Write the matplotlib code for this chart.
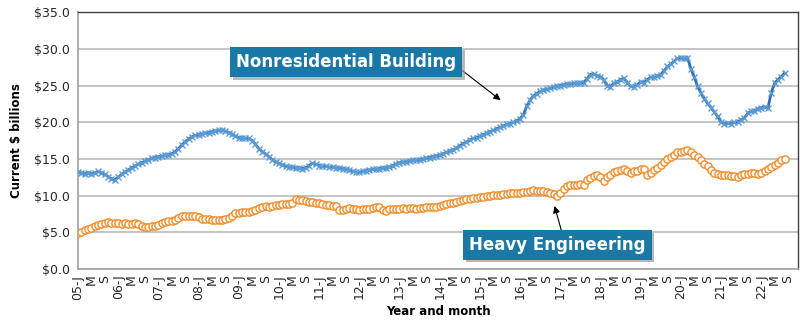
import numpy as np
import matplotlib
matplotlib.use('Agg')
import matplotlib.pyplot as plt
import matplotlib.patheffects as pe

# monthly values, Jan 2005 onwards (current $ billions)
nonres = [13.2, 13.1, 13.0, 13.1, 13.0, 13.1, 13.3, 13.1, 12.9, 12.6, 12.3, 12.2,
          12.5, 12.9, 13.2, 13.5, 13.8, 14.0, 14.3, 14.5, 14.7, 14.9, 15.1, 15.2,
          15.3, 15.4, 15.5, 15.6, 15.7, 16.0, 16.4, 16.9, 17.3, 17.7, 18.0, 18.2,
          18.3, 18.4, 18.5, 18.6, 18.7, 18.8, 18.9, 18.9, 18.8, 18.6, 18.4, 18.1,
          17.9, 17.9, 17.8, 17.8, 17.5, 17.0, 16.4, 16.0, 15.7, 15.3, 14.9, 14.6,
          14.4, 14.2, 14.0, 13.9, 13.9, 13.8, 13.8, 13.7, 13.8, 14.1, 14.4, 14.3,
          14.1, 14.0, 14.0, 13.9, 13.9, 13.8, 13.8, 13.7, 13.6, 13.5, 13.3, 13.2,
          13.2, 13.3, 13.4, 13.5, 13.6, 13.6, 13.7, 13.8, 13.8, 13.9, 14.1, 14.3,
          14.5, 14.6, 14.6, 14.7, 14.8, 14.8, 14.9, 15.0, 15.1, 15.2, 15.3, 15.4,
          15.5, 15.7, 15.9, 16.1, 16.2, 16.5, 16.8, 17.1, 17.3, 17.6, 17.8, 17.9,
          18.1, 18.3, 18.5, 18.7, 18.9, 19.1, 19.3, 19.5, 19.7, 19.8, 20.0, 20.2,
          20.5, 21.0, 22.2, 23.0, 23.6, 23.9, 24.2, 24.4, 24.5, 24.6, 24.8, 24.9,
          25.0, 25.1, 25.2, 25.2, 25.3, 25.3, 25.4, 25.4, 25.9, 26.5, 26.6, 26.3,
          26.2, 25.8, 25.0, 24.8, 25.3, 25.5, 25.8, 26.0, 25.4, 24.9, 24.8, 25.1,
          25.5, 25.4, 25.8, 26.1, 26.1, 26.3, 26.5, 27.0, 27.6, 27.9, 28.3, 28.7,
          28.8, 28.7, 28.8, 27.3, 26.2, 24.9, 24.0, 23.2, 22.6, 22.0, 21.4, 20.8,
          20.0, 19.8, 19.9, 19.8, 20.0, 20.1, 20.3, 20.6, 21.2, 21.5, 21.6, 21.8,
          22.0, 22.1, 21.9, 24.0, 25.3, 25.8, 26.2, 26.7]

heavy = [4.95, 5.1, 5.3, 5.45, 5.6, 5.85, 6.0, 6.15, 6.3, 6.35, 6.3, 6.3,
         6.25, 6.2, 6.25, 6.2, 6.2, 6.3, 6.1, 5.85, 5.8, 5.8, 5.85, 5.9,
         6.0, 6.3, 6.4, 6.5, 6.6, 6.7, 6.9, 7.2, 7.25, 7.2, 7.2, 7.2,
         7.1, 6.85, 6.8, 6.8, 6.75, 6.7, 6.75, 6.7, 6.8, 6.9, 7.3, 7.6,
         7.7, 7.8, 7.8, 7.75, 7.9, 8.1, 8.3, 8.5, 8.6, 8.45, 8.55, 8.7,
         8.7, 8.85, 8.85, 8.9, 8.95, 9.5, 9.45, 9.4, 9.3, 9.2, 9.1, 9.05,
         9.0, 8.85, 8.75, 8.7, 8.65, 8.6, 8.0, 8.1, 8.2, 8.35, 8.2, 8.15,
         8.1, 8.2, 8.2, 8.25, 8.3, 8.4, 8.4, 8.1, 7.9, 8.2, 8.25, 8.2,
         8.25, 8.3, 8.25, 8.3, 8.3, 8.25, 8.3, 8.35, 8.4, 8.45, 8.5, 8.5,
         8.6, 8.7, 8.85, 8.95, 9.05, 9.15, 9.3, 9.35, 9.5, 9.55, 9.65, 9.7,
         9.8, 9.85, 9.9, 10.0, 10.1, 10.1, 10.15, 10.2, 10.2, 10.3, 10.3, 10.35,
         10.4, 10.45, 10.55, 10.7, 10.75, 10.7, 10.6, 10.6, 10.5, 10.3, 10.2, 10.0,
         10.4, 10.9, 11.3, 11.4, 11.4, 11.5, 11.6, 11.4, 12.1, 12.4, 12.65, 12.8,
         12.5, 12.0, 12.6, 12.8, 13.25, 13.4, 13.5, 13.6, 13.3, 13.1, 13.3, 13.4,
         13.6, 13.7, 12.8, 13.1, 13.5, 13.8, 14.2, 14.6, 15.0, 15.3, 15.6, 15.9,
         16.0, 16.1, 16.2, 15.9, 15.5, 15.3, 14.9, 14.3, 14.0, 13.5, 13.1, 12.9,
         12.85, 12.8, 12.75, 12.7, 12.65, 12.6, 12.75, 12.95, 13.0, 13.05, 13.1, 13.0,
         13.1, 13.3, 13.6, 13.9, 14.2, 14.5, 14.8, 15.0]

first_year = 2005
n_months = 216  # axis runs Jan 2005 - Dec 2022
month_letters = {0: 'J', 4: 'M', 8: 'S'}

fig = plt.figure(figsize=(8, 3.27), dpi=100)
ax = fig.add_axes([0.0975, 0.177, 0.9, 0.786])

x_nr = np.arange(len(nonres))
x_he = np.arange(len(heavy))

ax.plot(x_nr, nonres, color='#2F6FAE', lw=2.0, marker='x', ms=4.5,
        mec='#5B9BD5', mew=1.0, zorder=3)
ax.plot(x_he, heavy, color='#F28C28', lw=1.0, marker='o', ms=5.2,
        mfc='white', mec='#F28C28', mew=1.0, zorder=3)

ax.set_xlim(0, n_months - 1)
ax.set_ylim(0, 35)
ax.set_yticks(np.arange(0, 36, 5))
ax.set_yticklabels(['${0:.1f}'.format(v) for v in np.arange(0, 36, 5)])

ticks = list(range(0, n_months - 3, 4))
labels = []
for t in ticks:
    m = t % 12
    if m == 0:
        labels.append('{0:02d}-J'.format((first_year + t // 12) % 100))
    else:
        labels.append(month_letters[m])
ax.set_xticks(ticks)
ax.set_xticklabels(labels, rotation=90)

ax.tick_params(axis='both', length=0, labelsize=9, colors='#262626')
ax.tick_params(axis='x', pad=4)
ax.tick_params(axis='y', pad=6)

ax.grid(axis='y', color='#BFBFBF', lw=1.3)
ax.set_axisbelow(True)
for side in ['left', 'bottom']:
    ax.spines[side].set_color('#A6A6A6')
    ax.spines[side].set_linewidth(1.3)
for side in ['top', 'right']:
    ax.spines[side].set_color('#404040')
    ax.spines[side].set_linewidth(1.0)

ax.set_xlabel('Year and month', fontsize=8.5, fontweight='bold', labelpad=4)
ax.set_ylabel('Current $ billions', fontsize=8.5, fontweight='bold', labelpad=8)

box_color = '#1978A6'
shadow = [pe.SimplePatchShadow(offset=(2, -2), shadow_rgbFace='#9A9A9A', alpha=0.7), pe.Normal()]

# labels + arrows
t1 = ax.annotate('Nonresidential Building', xy=(126.2, 23.0), xytext=(80.0, 28.2),
                 fontsize=12, fontweight='bold', color='white', ha='center', va='center',
                 bbox=dict(boxstyle='square,pad=0.35', fc=box_color, ec='none'),
                 arrowprops=dict(arrowstyle='-|>', color='black', lw=0.8, relpos=(1.0, 0.3),
                                 shrinkA=0, shrinkB=0, mutation_scale=10))
t1.get_bbox_patch().set_path_effects(shadow)

t2 = ax.annotate('Heavy Engineering', xy=(142.3, 8.6), xytext=(143.2, 3.3),
                 fontsize=12, fontweight='bold', color='white', ha='center', va='center',
                 bbox=dict(boxstyle='square,pad=0.35', fc=box_color, ec='none'),
                 arrowprops=dict(arrowstyle='-|>', color='black', lw=0.8, relpos=(0.53, 1.0),
                                 shrinkA=0, shrinkB=0, mutation_scale=10))
t2.get_bbox_patch().set_path_effects(shadow)

fig.savefig('out.png', dpi=100)
